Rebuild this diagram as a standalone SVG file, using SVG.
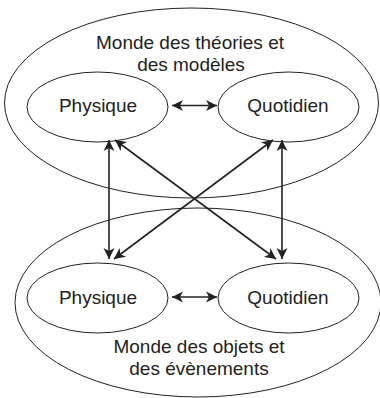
<svg xmlns="http://www.w3.org/2000/svg" width="380" height="398" viewBox="0 0 380 398">
<style>
.e{fill:none;stroke:#222;stroke-width:1}
.t{font-family:"Liberation Sans",Arial,sans-serif;font-size:19px;fill:#222;text-anchor:middle}
.c{stroke:#222;stroke-width:1.6;fill:none;marker-start:url(#a);marker-end:url(#a)}
</style>
<defs>
<marker id="a" viewBox="-12 -6 13 12" refX="0" refY="0" markerWidth="13" markerHeight="12" markerUnits="userSpaceOnUse" orient="auto-start-reverse">
<path d="M0,0 L-11,-5.5 L-8,0 L-11,5.5 Z" fill="#222"/>
</marker>
</defs>
<g id="theories">
<ellipse class="e" cx="191.5" cy="103" rx="187" ry="95"/>
<text class="t" x="190" y="49">Monde des théories et</text>
<text class="t" x="191" y="71">des modèles</text>
</g>
<g id="objets">
<ellipse class="e" cx="198" cy="302.5" rx="183" ry="94.5"/>
<text class="t" x="199" y="353">Monde des objets et</text>
<text class="t" x="199" y="375">des évènements</text>
</g>
<g id="physique-theorie">
<ellipse class="e" cx="97.5" cy="107" rx="70.5" ry="35"/>
<text class="t" x="98" y="112">Physique</text>
</g>
<g id="quotidien-theorie">
<ellipse class="e" cx="288.5" cy="107" rx="70.5" ry="35"/>
<text class="t" x="288" y="112">Quotidien</text>
</g>
<g id="physique-objets">
<ellipse class="e" cx="97.5" cy="298" rx="70.5" ry="35"/>
<text class="t" x="98" y="304">Physique</text>
</g>
<g id="quotidien-objets">
<ellipse class="e" cx="288.5" cy="298" rx="70.5" ry="35"/>
<text class="t" x="288" y="304">Quotidien</text>
</g>
<g id="connectors">
<line class="c" x1="172" y1="105.5" x2="217" y2="105.5"/>
<line class="c" x1="172" y1="297" x2="217" y2="297"/>
<line class="c" x1="109" y1="140" x2="109" y2="259"/>
<line class="c" x1="282" y1="140" x2="282" y2="259"/>
<line class="c" x1="115" y1="140" x2="276" y2="259"/>
<line class="c" x1="273" y1="140" x2="114" y2="259"/>
</g>
</svg>
